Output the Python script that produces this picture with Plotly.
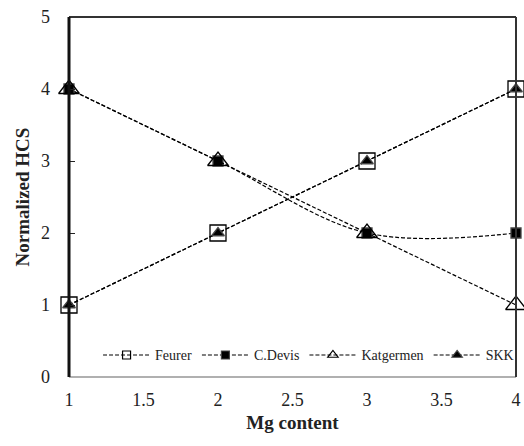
import plotly.graph_objects as go

mg = [1, 2, 3, 4]
feurer = [1, 2, 3, 4]
cdevis = [4, 3, 2, 2]
katgermen = [4, 3, 2, 1]
skk = [1, 2, 3, 4]

series = [
    ("Feurer", feurer, "square-open", 16, 8, "linear"),
    ("C.Devis", cdevis, "square", 10, 8, "spline"),
    ("Katgermen", katgermen, "triangle-up-open", 18, 9, "linear"),
    ("SKK", skk, "triangle-up", 11, 9, "linear"),
]

font = "Liberation Serif, Times New Roman, serif"
fig = go.Figure()
for name, vals, sym, size, lsize, shape in series:
    fig.add_trace(go.Scatter(x=mg, y=vals, name=name, mode="lines+markers", cliponaxis=False, showlegend=False,
                             line=dict(color="black", width=1.2, dash="4px,2px", shape=shape),
                             marker=dict(symbol=sym, size=size, color="black", line=dict(width=1.3))))
for name, vals, sym, size, lsize, shape in series:
    fig.add_trace(go.Scatter(x=[None], y=[None], name=name, mode="lines+markers",
                             line=dict(color="black", width=1.2, dash="4px,2px"),
                             marker=dict(symbol=sym, size=lsize, color="black", line=dict(width=1.2))))

fig.update_layout(
    width=524, height=446,
    margin=dict(l=69, r=3, t=17, b=69),
    plot_bgcolor="white", paper_bgcolor="white",
    font=dict(family=font, size=18, color="#222"),
    showlegend=True,
    legend=dict(orientation="h", x=0.065, y=0.06, xanchor="left", yanchor="middle",
                font=dict(family=font, size=14, color="#222"), bgcolor="rgba(0,0,0,0)",
                itemwidth=47, tracegroupgap=0),
    xaxis=dict(range=[1, 4], tickvals=[1, 1.5, 2, 2.5, 3, 3.5, 4], ticktext=["1", "1.5", "2", "2.5", "3", "3.5", "4"],
               showgrid=False, zeroline=False, ticks="", showline=False, ticklabelstandoff=10,
               ticklabeloverflow="allow",
               title=dict(text="<b>Mg content</b>", font=dict(family=font, size=19), standoff=6)),
    yaxis=dict(range=[0, 5], tickvals=[0, 1, 2, 3, 4, 5], showgrid=False, zeroline=False,
               ticks="inside", ticklen=6, tickcolor="#222", showline=False, ticklabelstandoff=18,
               title=dict(text="<b>Normalized HCS</b>", font=dict(family=font, size=19), standoff=6)),
    shapes=[
        dict(type="line", xref="paper", yref="paper", x0=0, x1=1, y0=0, y1=0, line=dict(color="#b0b0b0", width=2)),
        dict(type="line", xref="paper", yref="paper", x0=0, x1=1, y0=1, y1=1, line=dict(color="#333", width=2)),
        dict(type="line", xref="paper", yref="paper", x0=1, x1=1, y0=0, y1=1, line=dict(color="#333", width=2)),
        dict(type="line", xref="paper", yref="paper", x0=0, x1=0, y0=0, y1=1, line=dict(color="#111", width=3)),
    ],
)
fig.write_html("out.html", config={"displayModeBar": False},
               post_script="document.body.style.margin='0';")
